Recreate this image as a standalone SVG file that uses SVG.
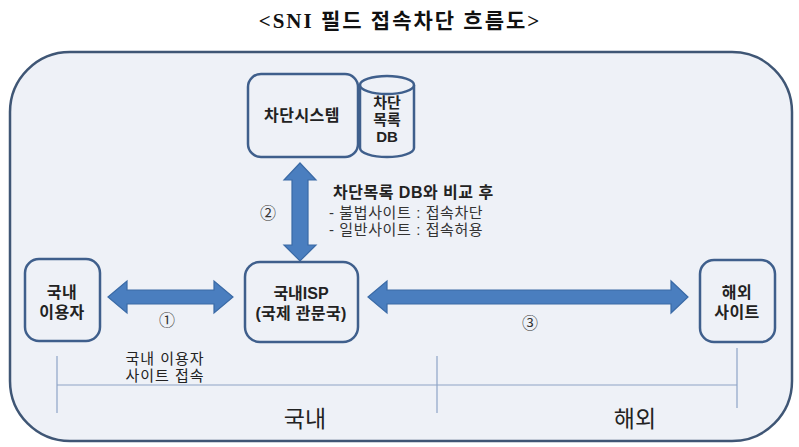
<svg xmlns="http://www.w3.org/2000/svg" width="799" height="447" viewBox="0 0 799 447">
<defs>
<style>
.box{fill:#eef1f7;stroke:#3f5f8c;stroke-width:2.5}
.t{font-family:"Liberation Sans","Noto Sans CJK KR",sans-serif;fill:#222;text-anchor:middle}
.b{font-weight:bold;font-size:16px}
.arrow{fill:#4a7ebf;stroke:#3a6aa6;stroke-width:1.2}
.rule{stroke:#8ea4c6;stroke-width:1.2;fill:none}
.num{font-family:"Noto Sans CJK KR","DejaVu Sans",sans-serif;font-size:16px;fill:#333;text-anchor:middle}
</style>
</defs>
<rect width="799" height="447" fill="#ffffff"/>
<text x="400" y="28" text-anchor="middle" font-family="Liberation Serif,'Noto Sans CJK KR',serif" font-weight="bold" font-size="21" fill="#111" letter-spacing="2">&lt;SNI 필드 접속차단 흐름도&gt;</text>
<rect x="10" y="52" width="782" height="389" rx="60" ry="60" fill="#eef1f7" stroke="#3f5675" stroke-width="2.5"/>

<g id="connectors">
<polygon class="arrow" points="300,163 316,180 308,180 308,245 316,245 300,261 284,245 292,245 292,180 284,180"/>
<polygon class="arrow" points="108,297 127,281 127,290 214,290 214,281 233,297 214,313 214,304 127,304 127,313"/>
<polygon class="arrow" points="368,297 387,281 387,290 671,290 671,281 688,297 671,313 671,304 387,304 387,313"/>
<text class="num" x="268" y="219">②</text>
<text class="num" x="167" y="326">①</text>
<text class="num" x="530" y="329">③</text>
</g>

<g id="system">
<rect class="box" x="248" y="74" width="110" height="83" rx="13"/>
<text class="t b" x="302" y="121" letter-spacing="0.5">차단시스템</text>
</g>
<g id="db">
<path d="M360,85 L360,148 A27,9 0 0,0 414,148 L414,85" fill="#eef1f7" stroke="#3f5f8c" stroke-width="2.5"/>
<ellipse cx="387" cy="85" rx="27" ry="9" fill="#eef1f7" stroke="#3f5f8c" stroke-width="2.5"/>
<text class="t" x="387" y="108" font-weight="bold" font-size="15">차단</text>
<text class="t" x="387" y="125" font-weight="bold" font-size="15">목록</text>
<text class="t" x="387" y="142" font-weight="bold" font-size="15">DB</text>
</g>

<g id="note">
<text x="333" y="198" font-family="Liberation Sans,'Noto Sans CJK KR',sans-serif" font-weight="bold" font-size="16" fill="#222" letter-spacing="0.5">차단목록 DB와 비교 후</text>
<text x="329" y="218" font-family="Liberation Sans,'Noto Sans CJK KR',sans-serif" font-size="15" fill="#333" letter-spacing="0.6">- 불법사이트 : 접속차단</text>
<text x="329" y="235" font-family="Liberation Sans,'Noto Sans CJK KR',sans-serif" font-size="15" fill="#333" letter-spacing="0.6">- 일반사이트 : 접속허용</text>
</g>

<g id="user">
<rect class="box" x="25" y="259" width="75" height="82" rx="14"/>
<text class="t b" x="62" y="298" letter-spacing="0.5">국내</text>
<text class="t b" x="62" y="318" letter-spacing="0.5">이용자</text>
</g>
<g id="isp">
<rect class="box" x="245" y="262" width="113" height="80" rx="15"/>
<text class="t b" x="301" y="299">국내ISP</text>
<text class="t b" x="301" y="319" letter-spacing="0.3">(국제 관문국)</text>
</g>
<g id="overseas">
<rect class="box" x="700" y="260" width="75" height="82" rx="14"/>
<text class="t b" x="737" y="298" letter-spacing="0.5">해외</text>
<text class="t b" x="737" y="318" letter-spacing="0.5">사이트</text>
</g>

<g id="scale">
<line class="rule" x1="57" y1="385" x2="737" y2="385"/>
<line class="rule" x1="57" y1="356" x2="57" y2="413"/>
<line class="rule" x1="437" y1="356" x2="437" y2="413"/>
<line class="rule" x1="737" y1="348" x2="737" y2="408"/>
<text class="t" x="165" y="364" font-size="15" fill="#444" letter-spacing="1">국내 이용자</text>
<text class="t" x="165" y="381" font-size="15" fill="#444" letter-spacing="1">사이트 접속</text>
<text class="t" x="305" y="427" font-size="23">국내</text>
<text class="t" x="635" y="427" font-size="23">해외</text>
</g>
</svg>
